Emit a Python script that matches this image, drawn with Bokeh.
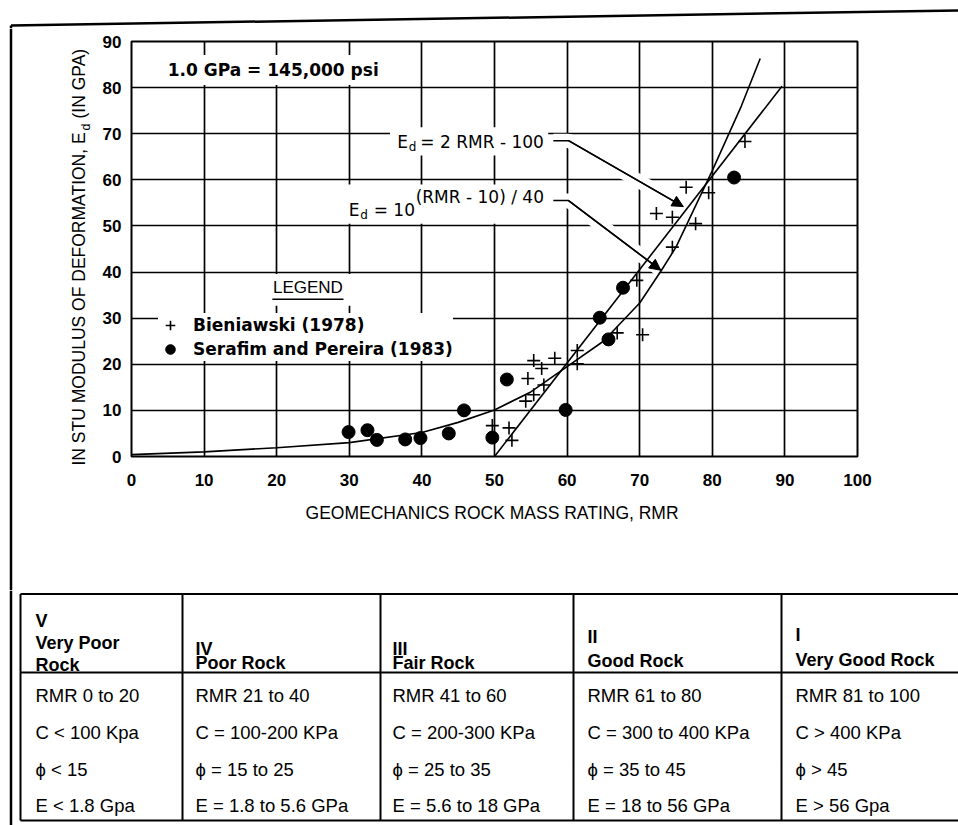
import math
from bokeh.plotting import figure
from bokeh.models import Range1d, FixedTicker, Label, Legend, LegendItem, Arrow, NormalHead
from bokeh.layouts import column, row
from bokeh.embed import file_html
from bokeh.resources import INLINE
from bokeh.core.properties import value

# ---------------- data ----------------
bien_rmr = [49.7, 52.0, 52.4, 54.3, 55.4, 56.8, 54.6, 56.5, 55.4, 58.3, 61.4, 61.4,
            66.9, 70.4, 69.6, 74.5, 72.3, 74.5, 77.7, 76.4, 79.5, 84.5]
bien_ed = [6.7, 6.2, 3.5, 12.0, 13.4, 15.5, 16.9, 19.1, 20.8, 21.3, 20.1, 23.0,
           26.8, 26.4, 38.2, 45.4, 52.7, 51.9, 50.5, 58.4, 57.2, 68.3]

ser_rmr = [29.9, 32.5, 33.8, 37.7, 39.8, 43.7, 45.8, 49.7, 51.7, 59.8, 64.5, 65.7, 67.7, 83.0]
ser_ed = [5.3, 5.7, 3.6, 3.7, 4.0, 5.0, 10.0, 4.1, 16.7, 10.1, 30.1, 25.4, 36.6, 60.5]

exp_rmr = [0, 10, 20, 30, 40, 45, 50, 55, 60, 65, 70, 73, 75, 80, 84, 86.6]
exp_ed = [0.4, 1.0, 1.9, 3.0, 5.2, 7.4, 10.1, 14.0, 19.5, 25.0, 33.3, 40.4, 45.4, 62.0, 76.0, 86.3]

lin_rmr = [50.0, 89.6]
lin_ed = [0.0, 80.3]

x_ticks = [0, 10, 20, 30, 40, 50, 60, 70, 80, 90, 100]
y_ticks = [0, 10, 20, 30, 40, 50, 60, 70, 80, 90]

class_numerals = ["V", "IV", "III", "II", "I"]
class_names = [["Very Poor", "Rock"], ["Poor Rock"], ["Fair Rock"], ["Good Rock"], ["Very Good Rock"]]
rmr_ranges = ["RMR 0 to 20", "RMR 21 to 40", "RMR 41 to 60", "RMR 61 to 80", "RMR 81 to 100"]
cohesion = ["C < 100 Kpa", "C = 100-200 KPa", "C = 200-300 KPa", "C = 300 to 400 KPa", "C > 400 KPa"]
friction = ["\u03d5 < 15", "\u03d5 = 15 to 25", "\u03d5 = 25 to 35", "\u03d5 = 35 to 45", "\u03d5 > 45"]
modulus = ["E < 1.8 Gpa", "E = 1.8 to 5.6 GPa", "E = 5.6 to 18 GPa", "E = 18 to 56 GPa", "E > 56 Gpa"]

# ---------------- layout / style constants (page pixels) ----------------
PAGE_W = 958
TOP_H = 28            # strip holding the outer frame's top edge
ROW_H = 562           # chart row
TAB_H = 235           # classification table
YT_W = 96             # strip holding the y-axis title
CH_W = PAGE_W - YT_W
OUT_X = 10.5          # outer frame left edge
SANS = "Liberation Sans"
DJ = "DejaVu Sans"


def blank(width, height, xr, yr):
    f = figure(width=width, height=height, output_backend="svg", toolbar_location=None, title=None,
               x_range=xr, y_range=yr, x_axis_type=None, y_axis_type=None,
               min_border=0, min_border_left=0, min_border_right=0, min_border_top=0,
               min_border_bottom=0, frame_align=False)
    f.outline_line_color = None
    f.background_fill_color = "white"
    f.border_fill_color = "white"
    return f


# ---------------- outer frame top strip ----------------
top = blank(PAGE_W, TOP_H, Range1d(0, PAGE_W), Range1d(-TOP_H, 0))
top.line([OUT_X, PAGE_W], [-25, -10], line_color="black", line_width=2.5)
top.line([OUT_X, OUT_X], [-25, -TOP_H], line_color="black", line_width=2.5)

# ---------------- y-axis title strip ----------------
yt = blank(YT_W, ROW_H, Range1d(0, YT_W), Range1d(-(TOP_H + ROW_H), -TOP_H))
yt.line([OUT_X, OUT_X], [-TOP_H, -(TOP_H + ROW_H)], line_color="black", line_width=2.5)
yt.text(x=[78, 85, 78], y=[-465, -130, -118],
        text=["IN STU MODULUS OF DEFORMATION, E", "d", "(IN GPA)"],
        text_font=value(SANS), text_font_size=["17.5px", "12.5px", "17.5px"],
        angle=math.pi / 2, text_align="left", text_baseline="middle", text_color="black")

# ---------------- chart ----------------
p = figure(width=CH_W, height=ROW_H, output_backend="svg", toolbar_location=None, title=None,
           x_range=Range1d(0, 100), y_range=Range1d(0, 90),
           min_border_left=35, min_border_right=101, min_border_top=13, min_border_bottom=134)
p.background_fill_color = "white"
p.border_fill_color = "white"
p.outline_line_color = "black"
p.outline_line_width = 2

p.xaxis.ticker = FixedTicker(ticks=x_ticks)
p.yaxis.ticker = FixedTicker(ticks=y_ticks)
for ax in (p.xaxis[0], p.yaxis[0]):
    ax.axis_line_color = None
    ax.major_tick_line_color = None
    ax.minor_tick_line_color = None
    ax.major_tick_in = 0
    ax.major_tick_out = 0
    ax.minor_tick_in = 0
    ax.minor_tick_out = 0
    ax.major_label_text_font = SANS
    ax.major_label_text_font_style = "bold"
    ax.major_label_text_font_size = "17px"
    ax.major_label_text_color = "black"
p.xaxis.major_label_standoff = 17
p.yaxis.major_label_standoff = 10
p.xaxis.axis_label = "GEOMECHANICS ROCK MASS RATING,  RMR"
p.xaxis.axis_label_standoff = 14
p.xaxis.axis_label_text_font = SANS
p.xaxis.axis_label_text_font_size = "17.5px"
p.xaxis.axis_label_text_font_style = "normal"
p.xaxis.axis_label_text_color = "black"

p.grid.grid_line_color = "black"
p.grid.grid_line_width = 1.7

# white masks that open the grid behind the annotation texts
LEG_TITLE_X, LEG_TITLE_Y = 24.3, 36.7
EQ1_X, EQ1_Y = 36.2, 68.2
EQ2_X, EQ2_Y = 29.5, 53.4
mask_l = [LEG_TITLE_X - 6.3, EQ1_X - 0.6, EQ2_X - 0.4]
mask_r = [LEG_TITLE_X + 6.6, 57.4, 57.4]
mask_b = [LEG_TITLE_Y - 4.0, EQ1_Y - 2.9, EQ2_Y - 2.9]
mask_t = [LEG_TITLE_Y + 2.9, EQ1_Y + 3.2, EQ2_Y + 5.6]
p.quad(left=mask_l, right=mask_r, bottom=mask_b, top=mask_t, fill_color="white", line_color=None)

# leader lines (label -> curve)
leader1_x = [58.1, 60.2, 76.0]
leader1_y = [68.5, 68.5, 54.2]
leader2_x = [58.1, 60.2, 72.9]
leader2_y = [55.5, 55.5, 40.4]
for lx, ly in ((leader1_x, leader1_y), (leader2_x, leader2_y)):
    p.line(lx, ly, line_color="white", line_width=14)

# curves
p.line(exp_rmr, exp_ed, line_color="black", line_width=1.6)
p.line(lin_rmr, lin_ed, line_color="black", line_width=1.6)

# data points
r_b = p.scatter(bien_rmr, bien_ed, marker="cross", size=13, line_color="black", line_width=1.6)
r_s = p.scatter(ser_rmr, ser_ed, marker="circle", size=13, fill_color="black", line_color="black")

# leaders with arrows
for lx, ly in ((leader1_x, leader1_y), (leader2_x, leader2_y)):
    p.line(lx, ly, line_color="black", line_width=1.5)
    p.add_layout(Arrow(end=NormalHead(size=11, fill_color="black", line_color="black"),
                       x_start=lx[1], y_start=ly[1], x_end=lx[2], y_end=ly[2],
                       line_color="black", line_width=1.5))

# legend heading underline
p.line([LEG_TITLE_X - 4.9, LEG_TITLE_X + 4.9], [LEG_TITLE_Y - 2.6, LEG_TITLE_Y - 2.6],
       line_color="black", line_width=1.5)

legend = Legend(items=[LegendItem(label="Bieniawski (1978)", renderers=[r_b]),
                       LegendItem(label="Serafim and Pereira (1983)", renderers=[r_s])],
                location=(27, 95), orientation="vertical",
                background_fill_color="white", background_fill_alpha=1.0, border_line_color=None,
                label_text_font=DJ, label_text_font_style="bold", label_text_font_size="17px",
                label_text_color="black",
                padding=8, spacing=0, margin=0, glyph_width=24, glyph_height=24,
                label_height=20, label_standoff=11)
p.add_layout(legend)


def lab(x, y, text, font, size, style="normal", xo=0, yo=0, bg=False, align="left", pad=3):
    p.add_layout(Label(x=x, y=y, text=text, x_offset=xo, y_offset=yo,
                       text_font=font, text_font_size=size, text_font_style=style,
                       text_color="black", text_align=align, text_baseline="middle",
                       background_fill_color="white" if bg else None, padding=pad))


# annotations
lab(4.3, 83.8, "1.0 GPa = 145,000 psi", DJ, "17px", style="bold", bg=True, pad=5)
lab(LEG_TITLE_X, LEG_TITLE_Y, "LEGEND", SANS, "17px", align="center")

lab(EQ1_X, EQ1_Y, "E", DJ, "17px")
lab(EQ1_X, EQ1_Y, "d", DJ, "12px", xo=11.5, yo=-5)
lab(EQ1_X, EQ1_Y, "= 2 RMR - 100", DJ, "17px", xo=23)

lab(EQ2_X, EQ2_Y, "E", DJ, "17px")
lab(EQ2_X, EQ2_Y, "d", DJ, "12px", xo=11.5, yo=-5)
lab(EQ2_X, EQ2_Y, "= 10", DJ, "17px", xo=25)
lab(EQ2_X, EQ2_Y, "(RMR - 10) / 40", DJ, "17px", xo=67, yo=13)

# ---------------- table ----------------
T0 = TOP_H + ROW_H
t = blank(PAGE_W, TAB_H, Range1d(0, PAGE_W), Range1d(T0 + TAB_H, T0))
t.line([OUT_X, OUT_X], [T0, T0 + TAB_H], line_color="black", line_width=2.5)

TOP_Y, HEAD_Y, BOT_Y = 593.5, 672, 820
COL_EDGES = [20, 182, 380, 573, 781]
t.segment(x0=[COL_EDGES[0]] * 3, x1=[PAGE_W] * 3, y0=[TOP_Y, HEAD_Y, BOT_Y], y1=[TOP_Y, HEAD_Y, BOT_Y],
          line_color="black", line_width=2)
t.segment(x0=COL_EDGES, x1=COL_EDGES, y0=[TOP_Y] * 5, y1=[BOT_Y] * 5, line_color="black", line_width=2)

COL_X = [35, 195, 392, 587, 795]
NUM_Y = [620, 648, 648, 636, 634]
NAME_Y = [[642, 664], [662], [662], [660], [659]]
ROW_Y = [695, 732, 769, 805]

hx, hy, ht = [], [], []
for i in range(5):
    hx.append(COL_X[i]); hy.append(NUM_Y[i]); ht.append(class_numerals[i])
    for line_txt, yy in zip(class_names[i], NAME_Y[i]):
        hx.append(COL_X[i]); hy.append(yy); ht.append(line_txt)
t.text(x=hx, y=hy, text=ht, text_font=value(SANS), text_font_size=value("18px"),
       text_font_style="bold", text_align="left", text_baseline="middle", text_color="black")

bx, by, bt = [], [], []
for i in range(5):
    for row_vals, yy in zip((rmr_ranges, cohesion, friction, modulus), ROW_Y):
        bx.append(COL_X[i]); by.append(yy); bt.append(row_vals[i])
t.text(x=bx, y=by, text=bt, text_font=value(SANS), text_font_size=value("18.5px"),
       text_font_style="normal", text_align="left", text_baseline="middle", text_color="black")

layout = column(top, row(yt, p, spacing=0), t, spacing=0)

open("out.html", "w").write(file_html(layout, INLINE))
